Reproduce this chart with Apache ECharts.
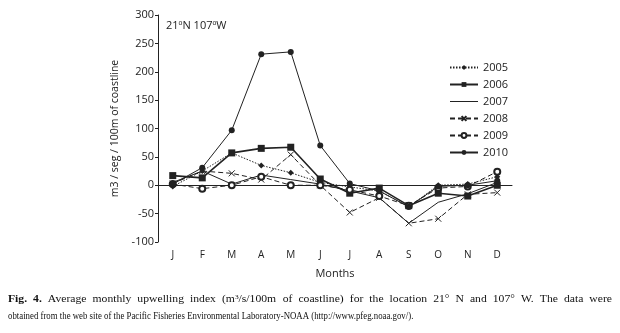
<!DOCTYPE html>
<html>
<head>
<meta charset="utf-8">
<script src="https://cdn.jsdelivr.net/npm/echarts@6/dist/echarts.min.js"></script>
<style>
html, body { margin: 0; padding: 0; background: #fff; }
#chart { width: 620px; height: 333px; }
</style>
</head>
<body>
<div id="chart"></div>
<script>
var months = ['J', 'F', 'M', 'A', 'M', 'J', 'J', 'A', 'S', 'O', 'N', 'D'];
var y2005 = [-2, 25, 57, 35, 22, 5, -3, -10, -38, 0, 2, 15];
var y2006 = [17, 13, 57, 65, 67, 11, -14, -5, -36, -14, -19, 0];
var y2007 = [5, 25, 2, 18, 10, 2, -10, -22, -67, -30, -15, 5];
var y2008 = [3, 25, 21, 10, 54, 0, -48, -22, -67, -59, -16, -13];
var y2009 = [2, -6, 0, 15, 0, 0, -8, -19, -36, -5, -2, 24];
var y2010 = [2, 31, 97, 231, 235, 70, 3, -10, -38, -2, 0, 8];
var yTicks = { min: -100, max: 300, step: 50 };

var ink = '#222';
var font = '"Open Sans", "Noto Sans", sans-serif';
var serif = '"Liberation Serif", serif';
var crossPath = 'path://M0,0L10,10M10,0L0,10';

function line(name, data, opt) {
    return {
        name: name,
        type: 'line',
        data: data,
        symbol: opt.symbol,
        symbolSize: opt.size,
        showSymbol: opt.symbol !== 'none',
        lineStyle: { color: ink, width: opt.width || 1, type: opt.dash || 'solid' },
        itemStyle: opt.item || { color: ink },
        emphasis: { disabled: true },
        animation: false
    };
}

// caption: first line spread edge to edge (justified), second line left
var capSize = 11, capLeft = 8, capRight = 612;
var scale1 = 1.06, scale2 = 0.8;
var ctx = document.createElement('canvas').getContext('2d');
function measure(txt, bold) {
    ctx.font = (bold ? 'bold ' : '') + capSize + 'px ' + serif;
    return ctx.measureText(txt).width * scale1;
}
var line1 = [
    { t: 'Fig.', b: true }, { t: '4.', b: true }, { t: 'Average' }, { t: 'monthly' },
    { t: 'upwelling' }, { t: 'index' }, { t: '(m{s|3}/s/100m', m: '(m/s/100m', sup: 1 },
    { t: 'of' }, { t: 'coastline)' }, { t: 'for' }, { t: 'the' }, { t: 'location' },
    { t: '21\u00b0' }, { t: 'N' }, { t: 'and' }, { t: '107\u00b0' }, { t: 'W.' },
    { t: 'The' }, { t: 'data' }, { t: 'were' }
];
var widths = line1.map(function (w) {
    return measure(w.m || w.t, w.b) + (w.sup ? 4 * scale1 : 0);
});
var total = widths.reduce(function (a, b) { return a + b; }, 0);
var gap = (capRight - capLeft - total) / (line1.length - 1);
var capGraphics = [];
var cx = capLeft;
line1.forEach(function (w, i) {
    capGraphics.push({
        type: 'text', x: cx, y: 294, scaleX: scale1,
        style: {
            text: w.t, fill: '#111',
            font: (w.b ? 'bold ' : '') + capSize + 'px ' + serif,
            rich: { s: { fontSize: 7, fontFamily: serif, verticalAlign: 'top', padding: [0, 0, 4, 0] } }
        }
    });
    cx += widths[i] + gap;
});
capGraphics.push({
    type: 'text', x: capLeft, y: 311, scaleX: scale2,
    style: {
        text: 'obtained from the web site of the Pacific Fisheries Environmental Laboratory-NOAA (http://www.pfeg.noaa.gov/).',
        fill: '#111', font: capSize + 'px ' + serif
    }
});

var chart = echarts.init(document.getElementById('chart'));
chart.setOption({
    backgroundColor: '#fff',
    grid: { left: 158, right: 108, top: 15, bottom: 91 },
    legend: {
        orient: 'vertical',
        left: 444,
        top: 57,
        itemWidth: 28,
        itemHeight: 6,
        itemGap: 6,
        textStyle: { color: ink, fontFamily: font, fontSize: 11 },
        data: ['2005', '2006',
            { name: '2007', icon: 'path://M0,4.5h28v1h-28z', itemStyle: { color: ink } },
            '2008', '2009', '2010']
    },
    xAxis: {
        type: 'category',
        data: months,
        name: 'Months',
        nameLocation: 'middle',
        nameGap: 26,
        nameTextStyle: { color: ink, fontFamily: font, fontSize: 11 },
        axisLine: { lineStyle: { color: ink, width: 1 } },
        axisTick: { length: 4, lineStyle: { color: ink } },
        axisLabel: { color: ink, fontFamily: font, fontSize: 10, margin: 8 }
    },
    yAxis: {
        type: 'value',
        min: yTicks.min,
        max: yTicks.max,
        interval: yTicks.step,
        name: 'm3 / seg / 100m of coastline',
        nameLocation: 'middle',
        nameGap: 27,
        nameTextStyle: { color: ink, fontFamily: font, fontSize: 10.5 },
        splitLine: { show: false },
        axisLine: { show: true, lineStyle: { color: ink, width: 1 } },
        axisTick: { show: true, length: 3, lineStyle: { color: ink } },
        axisLabel: { color: ink, fontFamily: font, fontSize: 11, margin: 4 }
    },
    series: [
        line('2005', y2005, { symbol: 'diamond', size: 6, dash: [1.5, 1.5] }),
        line('2006', y2006, { symbol: 'rect', size: 7, width: 1.6 }),
        line('2007', y2007, { symbol: 'none', size: 0 }),
        line('2008', y2008, { symbol: crossPath, size: 6, dash: [5, 3],
            item: { color: '#fff', borderColor: ink, borderWidth: 1 } }),
        line('2009', y2009, { symbol: 'emptyCircle', size: 6, dash: [5, 3],
            item: { color: ink, borderColor: ink, borderWidth: 1 } }),
        line('2010', y2010, { symbol: 'circle', size: 6 })
    ],
    graphic: [
        {
            type: 'text', left: 166, top: 20,
            style: {
                text: '21{s|o}N 107{s|o}W',
                fill: ink, font: '11px ' + font,
                rich: { s: { fontSize: 7, verticalAlign: 'top', padding: [0, 0, 4, 0] } }
            }
        }
    ].concat(capGraphics)
});
</script>
</body>
</html>
